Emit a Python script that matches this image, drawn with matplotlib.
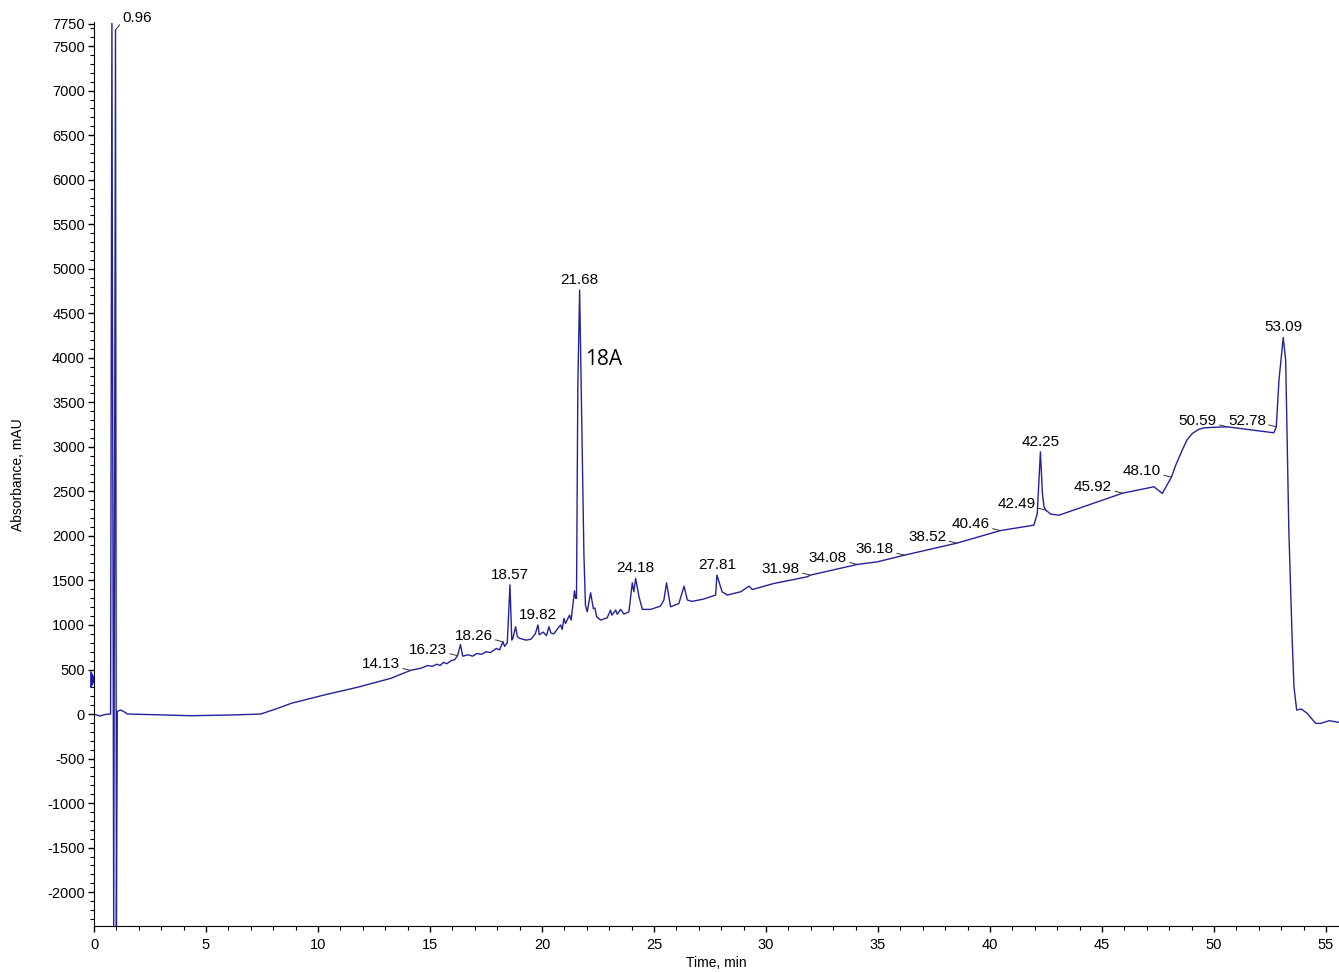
import matplotlib.pyplot as plt
from matplotlib.ticker import MultipleLocator
import numpy as np

# chromatogram trace (time in min, absorbance in mAU)
time_min = [
    0.00, 0.25, 0.50, 0.74, 0.80, 0.88, 0.96, 1.00, 1.04, 1.19, 1.34, 1.50,
    2.80, 4.30, 6.10, 7.44, 8.20, 8.80, 10.26, 11.75, 13.24, 14.13, 14.60,
    14.90, 15.10, 15.30, 15.45, 15.60, 15.75, 15.95, 16.10, 16.23, 16.36,
    16.46, 16.70, 16.90, 17.10, 17.30, 17.50, 17.70, 17.96, 18.10, 18.26,
    18.33, 18.45, 18.57, 18.65, 18.70, 18.82, 18.90, 19.00, 19.30, 19.50,
    19.70, 19.82, 19.88, 20.05, 20.20, 20.31, 20.40, 20.53, 20.70, 20.83,
    20.90, 20.98, 21.05, 21.23, 21.30, 21.45, 21.50, 21.54, 21.60, 21.68,
    21.76, 21.87, 21.94, 22.02, 22.17, 22.29, 22.36, 22.44, 22.62, 22.91,
    23.06, 23.12, 23.29, 23.36, 23.51, 23.66, 23.88, 24.03, 24.10, 24.18,
    24.33, 24.48, 24.85, 25.29, 25.44, 25.56, 25.74, 26.11, 26.34, 26.49,
    26.70, 27.20, 27.75, 27.81, 28.04, 28.27, 28.87, 29.24, 29.39, 30.35,
    31.84, 31.98, 33.92, 34.08, 34.97, 36.18, 38.52, 40.46, 41.96, 42.11,
    42.25, 42.34, 42.41, 42.49, 42.71, 43.08, 45.92, 47.32, 47.69, 48.10,
    48.30, 48.58, 48.80, 49.03, 49.30, 49.55, 50.00, 50.59, 52.67, 52.78,
    52.90, 53.09, 53.20, 53.34, 53.49, 53.57, 53.69, 53.90, 54.16, 54.54,
    54.76, 55.14, 55.58,
]
absorbance = [
    0, -22, -5, 0, 7800, -2450, 7680, -2450, 30, 45, 26, 0,
    -8, -19, -11, 0, 64, 120, 213, 300, 400, 490, 515,
    545, 535, 560, 545, 580, 565, 600, 610, 655, 780,
    650, 665, 650, 680, 670, 700, 690, 737, 720, 811,
    760, 800, 1450, 830, 850, 980, 870, 850, 830, 840,
    900, 1000, 890, 920, 880, 980, 910, 900, 960, 1000,
    950, 1074, 1017, 1111, 1055, 1384, 1298, 1300, 3700, 4760,
    3500, 1800, 1223, 1148, 1362, 1185, 1190, 1092, 1055, 1081,
    1167, 1110, 1167, 1120, 1175, 1122, 1148, 1473, 1373, 1523,
    1317, 1175, 1175, 1212, 1280, 1473, 1204, 1241, 1436, 1280,
    1265, 1290, 1336, 1560, 1373, 1336, 1373, 1436, 1398, 1466,
    1541, 1560, 1670, 1680, 1709, 1784, 1919, 2060, 2121, 2252,
    2944, 2477, 2327, 2290, 2245, 2233, 2480, 2552, 2477, 2660,
    2800, 2963, 3080, 3150, 3195, 3213, 3220, 3225, 3158, 3225,
    3749, 4228, 3973, 2065, 830, 306, 45, 56, 8, -105,
    -105, -75, -93,
]

# peak labels: centred above the peak or with a short leader to the left
top_labels = ['18.57', '19.82', '21.68', '24.18', '27.81', '42.25', '53.09']
leader_labels = ['14.13', '16.23', '18.26', '31.98', '34.08', '36.18',
                 '38.52', '40.46', '42.49', '45.92', '48.10', '50.59', '52.78']
first_label = '0.96'
compound_label = '18A'

x_ticks = list(range(0, 56, 5))
y_ticks = list(range(-2000, 7501, 500)) + [7750]
marker_level = 390

line_color = '#22229a'

plt.rcParams['font.family'] = ['Liberation Sans', 'DejaVu Sans']
plt.rcParams['axes.unicode_minus'] = False

fig = plt.figure(figsize=(13.39, 9.72), dpi=100)
ax = fig.add_axes([94 / 1339, 46 / 972, 1245 / 1339, 903.5 / 972])

t = np.array(time_min)
a = np.array(absorbance)
ax.plot(t, a, color=line_color, lw=1.0)

# labels centred above peaks
for lab in top_labels:
    x = float(lab)
    y = np.interp(x, t, a)
    ax.annotate(lab, xy=(x, y), xytext=(0, 4.5), textcoords='offset points',
                ha='center', va='baseline', fontsize=11)

# labels with a short leader line
for lab in leader_labels:
    x = float(lab)
    y = np.interp(x, t, a)
    ax.annotate(lab, xy=(x, y), xytext=(-7.5, 1.5), textcoords='offset points',
                ha='right', va='baseline', fontsize=11,
                arrowprops=dict(arrowstyle='-', lw=0.7, color='0.2',
                                relpos=(1, 0.25), shrinkA=0, shrinkB=0))

x = float(first_label)
ax.annotate(first_label, xy=(x, np.interp(x, t, a)), xytext=(5, 6),
            textcoords='offset points', ha='left', va='baseline',
            fontsize=11,
            arrowprops=dict(arrowstyle='-', lw=0.7, color='0.2',
                            relpos=(0, 0.25), shrinkA=0, shrinkB=0))

# compound name next to the main peak
ax.annotate(compound_label, xy=(21.68, np.interp(21.68, t, a)), xytext=(4, -50),
            textcoords='offset points', ha='left', va='center',
            fontsize=15, family='Open Sans')

# injection marker on the y axis
tri = [(-0.47, -1), (0, 0), (-0.47, 1), (-0.47, -1)]
ax.plot([0], [marker_level], marker=tri, markersize=11, color='#1010d0',
        transform=ax.get_yaxis_transform(), clip_on=False)

ax.set_xlim(0, 55.58)
ax.set_ylim(-2380, 7765)
ax.set_xticks(x_ticks)
ax.set_yticks(y_ticks)
ax.xaxis.set_minor_locator(MultipleLocator(1))
ax.yaxis.set_minor_locator(MultipleLocator(100))
ax.tick_params(which='major', length=4.5, width=1, labelsize=10.5)
ax.tick_params(which='minor', length=2.8, width=0.8)
ax.tick_params(axis='x', which='major', pad=4)
ax.tick_params(axis='y', which='major', pad=2)
ax.spines['top'].set_visible(False)
ax.spines['right'].set_visible(False)

ax.set_xlabel('Time, min', fontsize=10, labelpad=3)
ax.set_ylabel('Absorbance, mAU', fontsize=10, labelpad=16)

plt.savefig('out.png', dpi=100)
